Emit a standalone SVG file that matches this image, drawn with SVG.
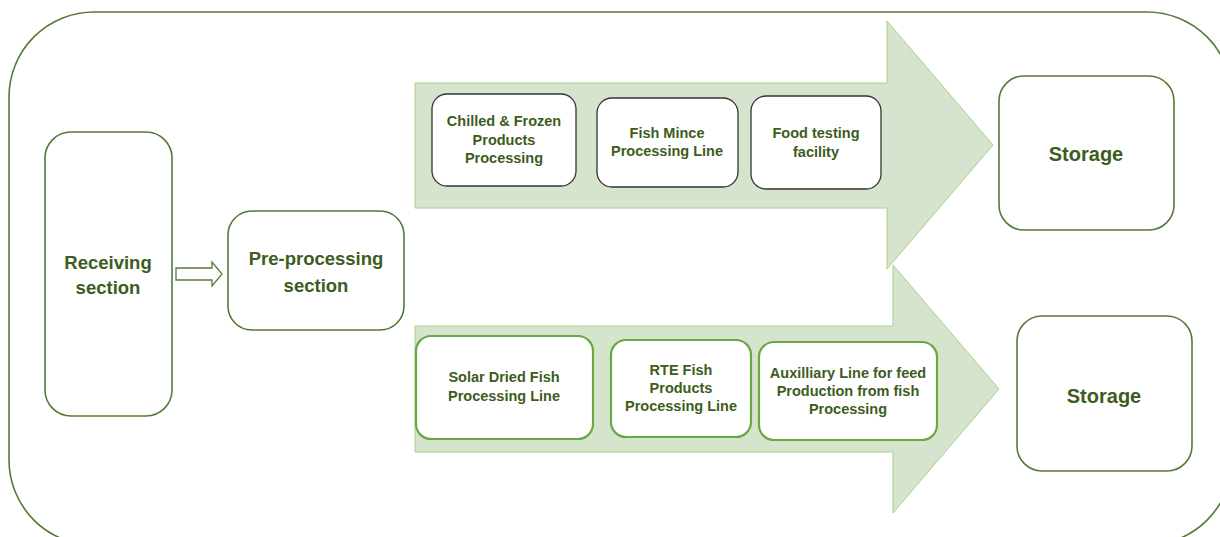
<svg xmlns="http://www.w3.org/2000/svg" width="1220" height="537" viewBox="0 0 1220 537">
<style>
.outer{fill:none;stroke:#557a35;stroke-width:1.6}
.main{fill:#fff;stroke:#557a35;stroke-width:1.6}
.topbox{fill:#fff;stroke:#333;stroke-width:1.3}
.botbox{fill:#fff;stroke:#6aa842;stroke-width:2.2}
.band{fill:#d6e4cd;stroke:#a8d08c;stroke-width:1}
text{font-family:"Liberation Sans",Arial,sans-serif;font-weight:bold;fill:#3d5c20;text-anchor:middle}
.big{font-size:18.5px}
.sm{font-size:14.5px}
.st{font-size:20px}
</style>
<rect class="outer" x="9" y="12" width="1223" height="533" rx="85"/>
<g id="connectors">
<path id="arrow-bottom" class="band" d="M415,326 H893 V265 L999,389 L893,513 V452 H415 Z"/>
<path id="arrow-top" class="band" d="M415,83 H887 V21 L993,145 L887,269 V208 H415 Z"/>
<path id="arrow-small" fill="#fff" stroke="#557a35" stroke-width="1.3" d="M176,268 H212 V262 L222,274 L212,286 V280 H176 Z"/>
</g>
<g id="receiving">
<rect class="main" x="45" y="132" width="127" height="284" rx="26"/>
<text class="big" x="108" y="269">Receiving</text>
<text class="big" x="108" y="294">section</text>
</g>
<g id="preprocessing">
<rect class="main" x="228" y="211" width="176" height="119" rx="24"/>
<text class="big" x="316" y="265">Pre-processing</text>
<text class="big" x="316" y="292">section</text>
</g>
<g id="chilled">
<rect class="topbox" x="432" y="94" width="144" height="92" rx="15"/>
<text class="sm" x="504" y="126">Chilled &amp; Frozen</text>
<text class="sm" x="504" y="145">Products</text>
<text class="sm" x="504" y="163">Processing</text>
</g>
<g id="mince">
<rect class="topbox" x="597" y="98" width="141" height="89" rx="15"/>
<text class="sm" x="667" y="138">Fish Mince</text>
<text class="sm" x="667" y="156">Processing Line</text>
</g>
<g id="testing">
<rect class="topbox" x="751" y="96" width="130" height="93" rx="15"/>
<text class="sm" x="816" y="138">Food testing</text>
<text class="sm" x="816" y="157">facility</text>
</g>
<g id="storage-top">
<rect class="main" x="999" y="76" width="175" height="154" rx="25"/>
<text class="st" x="1086" y="161">Storage</text>
</g>
<g id="solar">
<rect class="botbox" x="416" y="336" width="177" height="103" rx="15"/>
<text class="sm" x="504" y="382">Solar Dried Fish</text>
<text class="sm" x="504" y="401">Processing Line</text>
</g>
<g id="rte">
<rect class="botbox" x="611" y="340" width="140" height="97" rx="15"/>
<text class="sm" x="681" y="375">RTE Fish</text>
<text class="sm" x="681" y="393">Products</text>
<text class="sm" x="681" y="411">Processing Line</text>
</g>
<g id="auxiliary">
<rect class="botbox" x="759" y="342" width="178" height="98" rx="15"/>
<text class="sm" x="848" y="378">Auxilliary Line for feed</text>
<text class="sm" x="848" y="396">Production from fish</text>
<text class="sm" x="848" y="414">Processing</text>
</g>
<g id="storage-bottom">
<rect class="main" x="1017" y="316" width="175" height="155" rx="25"/>
<text class="st" x="1104" y="403">Storage</text>
</g>
</svg>
